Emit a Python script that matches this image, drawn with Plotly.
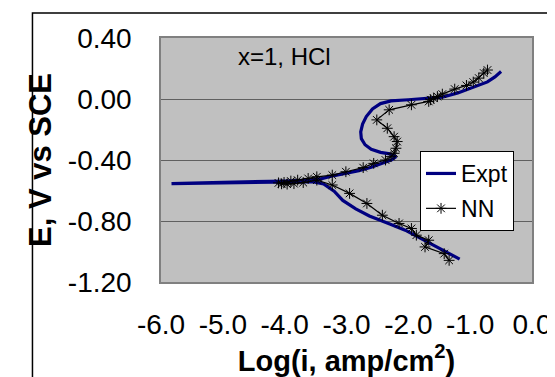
import plotly.graph_objects as go

# Experimental polarization curve (cathodic end -> Ecorr spike -> anodic end)
expt_x = [-1.17, -1.45, -1.75, -2.05, -2.30, -2.63, -2.85, -3.06, -3.20, -3.37, -3.55,
          -4.00, -4.50, -5.00, -5.83,
          -5.00, -4.50, -4.00, -3.60, -3.40, -3.20, -3.00, -2.80, -2.60, -2.40, -2.27,
          -2.20, -2.30, -2.45, -2.60, -2.70, -2.76, -2.77, -2.74, -2.68, -2.58, -2.45,
          -2.28, -2.00, -1.73, -1.45, -1.20, -0.95, -0.72, -0.60, -0.50]
expt_y = [-1.050, -0.990, -0.925, -0.860, -0.820, -0.767, -0.720, -0.665, -0.605, -0.557, -0.542,
          -0.545, -0.548, -0.551, -0.555,
          -0.546, -0.543, -0.538, -0.532, -0.522, -0.502, -0.487, -0.470, -0.448, -0.420, -0.398,
          -0.378, -0.360, -0.350, -0.330, -0.300, -0.260, -0.215, -0.165, -0.115, -0.065, -0.030,
          -0.012, -0.005, 0.002, 0.012, 0.040, 0.078, 0.112, 0.145, 0.180]

# Neural network prediction
nn_x = [-0.72, -0.78, -0.86, -0.95, -1.06, -1.25, -1.45, -1.53, -1.59, -1.64, -1.67, -1.95,
        -2.31, -2.51, -2.34, -2.23, -2.18, -2.20, -2.23, -2.28, -2.37, -2.56, -2.73, -3.01,
        -3.23, -3.48, -3.62, -3.79, -3.90, -4.01, -4.10, -4.05, -3.96, -3.85, -3.70, -3.48,
        -3.23, -2.95, -2.67, -2.42, -2.15, -1.95, -1.87, -1.67, -1.73, -1.42, -1.34]
nn_y = [0.190, 0.170, 0.137, 0.111, 0.089, 0.065, 0.032, 0.016, 0.005, -0.005, -0.016, -0.038,
        -0.071, -0.137, -0.192, -0.247, -0.279, -0.323, -0.356, -0.378, -0.400, -0.422, -0.450, -0.477,
        -0.499, -0.510, -0.521, -0.532, -0.538, -0.547, -0.550, -0.556, -0.558, -0.555, -0.548, -0.532,
        -0.564, -0.619, -0.685, -0.762, -0.816, -0.849, -0.893, -0.926, -0.970, -1.014, -1.058]

x_ticks = [-6.0, -5.0, -4.0, -3.0, -2.0, -1.0, 0.0]
y_ticks = [0.40, 0.00, -0.40, -0.80, -1.20]

FONT = "Arial, Liberation Sans, sans-serif"

fig = go.Figure()
fig.add_trace(go.Scatter(x=expt_x, y=expt_y, mode="lines", name="Expt",
                         line=dict(color="#000080", width=3.2), legendgroup="a"))
fig.add_trace(go.Scatter(x=nn_x, y=nn_y, mode="lines+markers", name="NN",
                         line=dict(color="black", width=1.2),
                         marker=dict(symbol="asterisk-open", size=9,
                                     line=dict(color="black", width=1)),
                         legendgroup="b"))

W, H = 555, 377
ml, mr, mt, mb = 153, 21, 30, 103
pw, ph = W - ml - mr, H - mt - mb

fig.update_layout(
    width=W, height=H,
    margin=dict(l=ml, r=mr, t=mt, b=mb, pad=0),
    paper_bgcolor="white", plot_bgcolor="#C0C0C0",
    font=dict(family=FONT, color="black", size=24),
    showlegend=True,
    legend=dict(x=(419 - ml) / pw, y=(H - mb - 143) / ph, xanchor="left", yanchor="top",
                bgcolor="white", bordercolor="black", borderwidth=1,
                font=dict(size=23, family=FONT), tracegroupgap=2),
    xaxis=dict(range=[-6, 0], tickvals=x_ticks, ticktext=[f"{v:.1f}" for v in x_ticks],
               showgrid=False, zeroline=False, showline=True, mirror=True,
               linecolor="#808080", linewidth=1.5, ticks="",
               ticklabelstandoff=17, tickfont=dict(size=28),
               title=dict(text="<b>Log(i, amp/cm<sup>2</sup>)</b>", font=dict(size=29), standoff=0)),
    xaxis2=dict(range=[-6, 0], overlaying="x", anchor="free", position=1.2 / 1.6,
                tickvals=x_ticks, showticklabels=False, ticks="outside", ticklen=9,
                tickcolor="black", tickwidth=1.2, showline=True, linecolor="black",
                linewidth=1.2, showgrid=False, zeroline=False),
    yaxis=dict(range=[-1.2, 0.4], tickvals=y_ticks, ticktext=[f"{v:.2f}" for v in y_ticks],
               showgrid=True, gridcolor="#606060", gridwidth=1.2, zeroline=False,
               showline=True, mirror=True, linecolor="#808080", linewidth=1.5, ticks="",
               ticklabelstandoff=22, tickfont=dict(size=28),
               title=dict(text="<b>E, V vs SCE</b>", font=dict(size=31), standoff=7)),
    annotations=[dict(x=-4.0, y=0.282, xref="x", yref="y", text="x=1, HCl", showarrow=False,
                      font=dict(size=24, family=FONT))],
    shapes=[dict(type="rect", xref="paper", yref="paper",
                 x0=(21 - ml) / pw, x1=(W + 20 - ml) / pw,
                 y0=(H - mb - (H + 20)) / ph, y1=(H - mb - 5) / ph,
                 line=dict(color="black", width=1.5), fillcolor="rgba(0,0,0,0)", layer="below")],
)

fig.write_html("out.html")
